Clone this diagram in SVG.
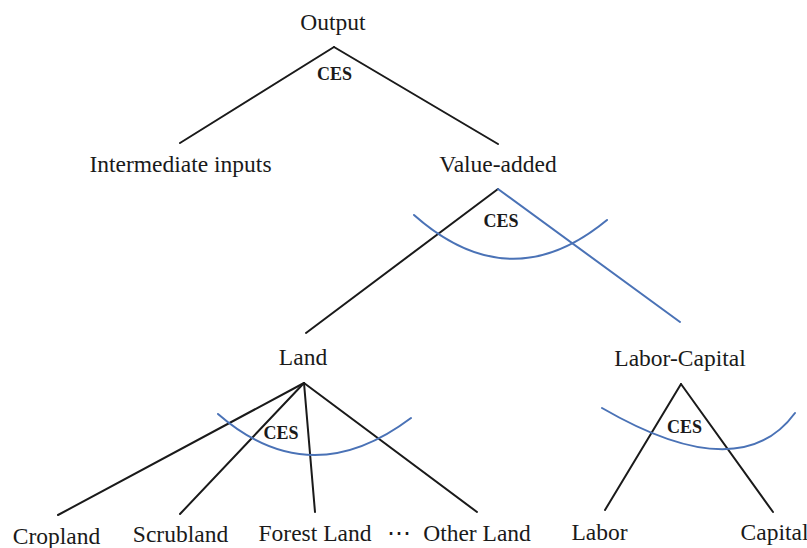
<svg xmlns="http://www.w3.org/2000/svg" width="807" height="548" viewBox="0 0 807 548">
<style>
.lbl{font-family:"Liberation Serif","Times New Roman",serif;font-size:23.5px;fill:#1a1a1a;text-anchor:middle}
.ces{font-family:"Liberation Serif","Times New Roman",serif;font-size:18px;font-weight:bold;fill:#1a1a1a;text-anchor:middle}
.ln{stroke:#1a1a1a;stroke-width:2;fill:none;stroke-linecap:round}
.bl{stroke:#4a72b6;stroke-width:2;fill:none;stroke-linecap:round}
</style>
<rect width="807" height="548" fill="#ffffff"/>
<g id="connectors">
<line class="ln" x1="334" y1="47" x2="180" y2="143"/>
<line class="ln" x1="334" y1="47" x2="498" y2="144"/>
<line class="ln" x1="498" y1="189" x2="306" y2="333"/>
<line class="bl" x1="498" y1="189" x2="680" y2="322"/>
<line class="ln" x1="304" y1="383" x2="58" y2="515"/>
<line class="ln" x1="304" y1="383" x2="180" y2="514"/>
<line class="ln" x1="304" y1="383" x2="315" y2="512"/>
<line class="ln" x1="304" y1="383" x2="477" y2="512"/>
<line class="ln" x1="681" y1="384" x2="605" y2="510"/>
<line class="ln" x1="681" y1="384" x2="773" y2="512"/>
<path class="bl" d="M414,215 Q510,300 607,220"/>
<path class="bl" d="M218,414 Q310,494 411,418"/>
<path class="bl" d="M602,408 Q740,488 795,413"/>
</g>
<g id="ces-labels">
<text class="ces" x="334.5" y="80">CES</text>
<text class="ces" x="501" y="227">CES</text>
<text class="ces" x="281" y="439">CES</text>
<text class="ces" x="684.5" y="433">CES</text>
</g>
<g id="output"><text class="lbl" x="333" y="30">Output</text></g>
<g id="intermediate"><text class="lbl" x="180.5" y="172">Intermediate inputs</text></g>
<g id="value-added"><text class="lbl" x="498" y="172">Value-added</text></g>
<g id="land"><text class="lbl" x="303" y="365">Land</text></g>
<g id="labor-capital"><text class="lbl" x="680" y="366">Labor-Capital</text></g>
<g id="cropland"><text class="lbl" x="56.5" y="544">Cropland</text></g>
<g id="scrubland"><text class="lbl" x="180.5" y="542">Scrubland</text></g>
<g id="forest-land"><text class="lbl" x="315" y="541">Forest Land</text></g>
<g id="ellipsis"><text class="lbl" x="399" y="541">⋯</text></g>
<g id="other-land"><text class="lbl" x="477" y="541">Other Land</text></g>
<g id="labor"><text class="lbl" x="599.5" y="540">Labor</text></g>
<g id="capital"><text class="lbl" x="774.5" y="540">Capital</text></g>
</svg>
